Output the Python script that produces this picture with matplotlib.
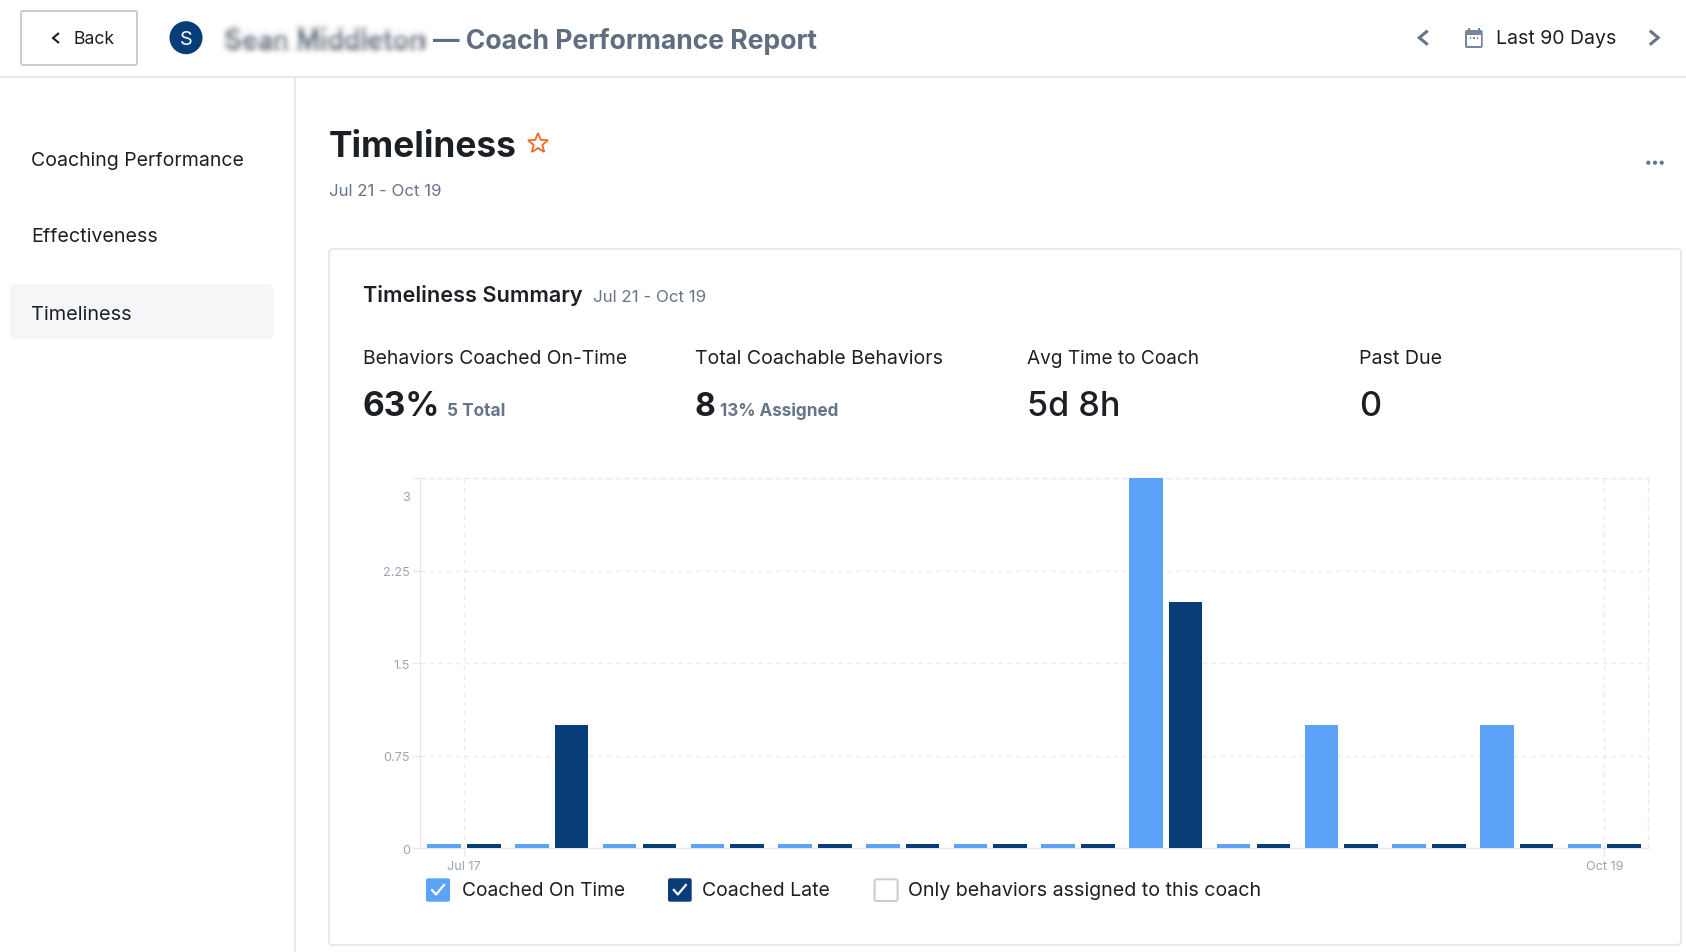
import numpy as np
import matplotlib
matplotlib.use("Agg")
import matplotlib.pyplot as plt
from matplotlib.patches import FancyBboxPatch, Rectangle, Circle, Polygon
from matplotlib.transforms import ScaledTranslation

FONT = "Inter"
plt.rcParams["font.family"] = [FONT, "DejaVu Sans"]

# ---- data ----
groups = list(range(14))
on_time = [0, 0, 0, 0, 0, 0, 0, 0, 3, 0, 1, 0, 1, 0]
late = [0, 1, 0, 0, 0, 0, 0, 0, 2, 0, 0, 0, 0, 0]
y_ticks = [0, 0.75, 1.5, 2.25, 3]
y_tick_labels = ["0", "0.75", "1.5", "2.25", "3"]
x_tick_pos = [0, 13]
x_tick_labels = ["Jul 17", "Oct 19"]
stats = [
    ("Behaviors Coached On-Time", "63%", "5 Total"),
    ("Total Coachable Behaviors", "8", "13% Assigned"),
    ("Avg Time to Coach", "5d 8h", ""),
    ("Past Due", "0", ""),
]
legend_items = ["Coached On Time", "Coached Late", "Only behaviors assigned to this coach"]

# ---- colours ----
LIGHT = "#5ba2f8"
DARK = "#073d78"
INK = "#1c2025"
SLATE = "#66758a"
LINE = "#e8e9f0"
GRID = "#e9ebf0"
TICK = "#9aa5b4"
BORDER = "#c5ced8"

W, H = 1686, 952
fig = plt.figure(figsize=(W / 100, H / 100), dpi=100, facecolor="white")
ui = fig.add_axes([0, 0, 1, 1], zorder=0)
ui.set_xlim(0, W)
ui.set_ylim(H, 0)
ui.axis("off")
renderer = fig.canvas.get_renderer()


def T(x, y, s, width=None, size=16, color=INK, weight="normal", ha="left"):
    """Text centred vertically at pixel y; font size tuned so it spans width pixels."""
    t = ui.text(x, y, s, fontsize=size * 0.72, color=color, weight=weight, ha=ha, va="center_baseline")
    if width:
        e = t.get_window_extent(renderer)
        t.set_fontsize(t.get_fontsize() * width / e.width)
    return t


def box(x0, y0, x1, y1, r=2, fc="white", ec="none", lw=0, z=1):
    p = FancyBboxPatch((x0 + r, y0 + r), x1 - x0 - 2 * r, y1 - y0 - 2 * r,
                       boxstyle=f"round,pad={r},rounding_size={r}",
                       fc=fc, ec=ec, lw=lw * 0.72, zorder=z)
    ui.add_patch(p)
    return p


def chevron(x, y, d, h=7, color=SLATE, lw=2.2):
    ui.plot([x - d * h * 0.6, x + d * h * 0.6, x - d * h * 0.6], [y - h, y, y + h],
            color=color, lw=lw, solid_joinstyle="miter", solid_capstyle="butt")


def blur_filter(im, dpi, sigma=5):
    pad = 3 * sigma
    out = np.pad(im, ((pad, pad), (pad, pad), (0, 0)))
    kx = np.arange(-pad, pad + 1)
    k = np.exp(-0.5 * (kx / sigma) ** 2)
    k /= k.sum()
    for c in range(4):
        out[..., c] = np.apply_along_axis(lambda v: np.convolve(v, k, mode="same"), 0, out[..., c])
        out[..., c] = np.apply_along_axis(lambda v: np.convolve(v, k, mode="same"), 1, out[..., c])
    return out, -pad, -pad


# ---- header ----
ui.plot([0, W], [76.7, 76.7], color=LINE, lw=1.5)
ui.plot([295, 295], [77, H], color=LINE, lw=1.5)
box(21, 11, 137, 65, r=2, ec=BORDER, lw=2)
chevron(56, 38, -1, h=5, color=INK, lw=1.5)
T(73.5, 38, "Back", width=41)
ui.add_patch(Circle((186, 37.7), 16.5, fc=DARK, ec="none"))
T(186, 38, "S", size=20, color="white", ha="center")
name = T(225, 39, "Sean Middleton", width=200, color="#3f4e62", weight="bold")
name.set_agg_filter(lambda im, dpi: blur_filter(im, dpi, sigma=3))
T(433, 38.5, "— Coach Performance Report", width=383, color="#5f6e80", weight="bold")
chevron(1423.5, 37.7, -1)
box(1465, 30, 1482.7, 48, r=2, fc="#76869a")
ui.add_patch(Rectangle((1468, 28), 2, 3, fc="#76869a"))
ui.add_patch(Rectangle((1477.5, 28), 2, 3, fc="#76869a"))
ui.add_patch(Rectangle((1467, 35), 13.7, 11, fc="white"))
for dx in (1470.5, 1473.9, 1477.3):
    ui.add_patch(Rectangle((dx - 0.8, 37), 1.6, 1.8, fc="#76869a"))
T(1495.7, 37.5, "Last 90 Days", width=120)
chevron(1654, 37.7, 1)

# ---- sidebar ----
box(10, 284, 274, 339.5, r=6, fc="#f5f6f8")
T(31, 159, "Coaching Performance", width=213)
T(30.8, 235, "Effectiveness", width=126)
T(31, 313, "Timeliness", width=100.5)

# ---- page title ----
T(328.5, 144, "Timeliness", width=188.5, weight="bold")
ang = np.deg2rad(90 + 36 * np.arange(10))
rad = np.where(np.arange(10) % 2 == 0, 10.5, 4.6)
ui.add_patch(Polygon(np.c_[538 + rad * np.cos(ang), 143.5 - rad * np.sin(ang)], closed=True,
                     fc="none", ec="#f26a21", lw=1.3))
T(329, 190, "Jul 21 - Oct 19", width=113, color=SLATE)
for dx in (1648.3, 1655, 1661.7):
    ui.add_patch(Circle((dx, 162.7), 2.1, fc=SLATE, ec="none"))

# ---- card ----
box(329, 249, 1681, 945, r=4, ec=LINE, lw=2)
T(363, 293.5, "Timeliness Summary", width=219, weight="semibold")
T(593, 296, "Jul 21 - Oct 19", width=113.5, color=SLATE)

stat_x = [363, 694.6, 1027, 1359]
label_w = [264, 248, 172, 83]
value_w = [78, 21, 93, 22]
value_weight = ["bold", "bold", "medium", "medium"]
sub_x = [447.3, 720.5]
sub_w = [58, 119]
for i, (lab, val, sub) in enumerate(stats):
    T(stat_x[i], 357, lab, width=label_w[i])
    T(stat_x[i], 404, val, width=value_w[i], weight=value_weight[i])
    if sub:
        T(sub_x[i], 409.5, sub, width=sub_w[i], color=SLATE, weight="bold")

# ---- chart ----
ax = fig.add_axes([420.2 / W, (H - 848.3) / H, 1228 / W, 370 / H], zorder=2)
ax.patch.set_alpha(0)
BAR_W, OFFSET, STUB = 0.383, 0.226, 0.033
gx = np.array(groups, dtype=float)
ax.bar(gx - OFFSET, np.maximum(on_time, STUB), BAR_W, color=LIGHT, zorder=3)
ax.bar(gx + OFFSET, np.maximum(late, STUB), BAR_W, color=DARK, zorder=3)
ax.set_xlim(-0.5, 13.5)
ax.set_ylim(0, 3)
ax.set_yticks(y_ticks, y_tick_labels)
ax.set_xticks(x_tick_pos, x_tick_labels)
dash = (0, (3.2, 3.2))
ax.grid(True, color=GRID, lw=1, linestyle=dash, zorder=0)
ax.set_axisbelow(True)
for s in ("left", "bottom"):
    ax.spines[s].set_color(LINE)
    ax.spines[s].set_linewidth(1)
for s in ("top", "right"):
    ax.spines[s].set_color(GRID)
    ax.spines[s].set_linewidth(1)
    ax.spines[s].set_linestyle(dash)
ax.tick_params(axis="y", length=5.8, width=1, color=LINE, pad=1.5, labelsize=9.1, labelcolor=TICK)
ax.tick_params(axis="x", length=5.8, width=1, color=LINE, pad=3.2, labelsize=9.1, labelcolor=TICK)
y_shift_px = [-1.5, -1, -1.2, -0.8, -18]
for lab, dy in zip(ax.get_yticklabels(), y_shift_px):
    lab.set_transform(lab.get_transform() + ScaledTranslation(0, dy / 100, fig.dpi_scale_trans))

# ---- legend ----
leg_box = [(426, 450), (668, 691.7), (874.6, 897.6)]
leg_fill = [LIGHT, DARK, None]
leg_text = [(461.5, 163), (702.5, 127.5), (908, 353.7)]
for (x0, x1), fc, (tx, tw), lab in zip(leg_box, leg_fill, leg_text, legend_items):
    if fc:
        box(x0, 878.3, x1, 901.7, r=2, fc=fc)
        cx, cy = (x0 + x1) / 2, 890
        ui.plot([cx - 6, cx - 2, cx + 6], [cy, cy + 4.5, cy - 5], color="white", lw=1.6)
    else:
        box(x0, 879.3, x1, 901, r=2, ec=BORDER, lw=2)
    T(tx, 889.5, lab, width=tw)

fig.savefig("out.png", dpi=100)
